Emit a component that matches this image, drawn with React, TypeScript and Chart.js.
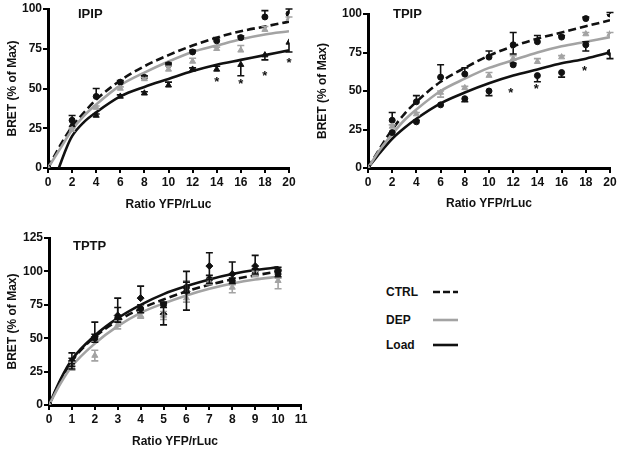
import React, { useEffect, useRef } from "react";
import { Chart, registerables } from "chart.js";

Chart.register(...registerables);

const FONT = "'Liberation Sans', Arial, sans-serif";
const BLACK = "#111111";
const GRAY = "#a3a3a3";

// ---------- IPIP ----------
const ipipX = [0, 2, 4, 6, 8, 10, 12, 14, 16, 18, 20];
const ipipCtrl = [0, 30, 45, 54, 57, 65, 73, 80, 82, 95, 97];
const ipipCtrlUp = [0, 3, 5, 1, 1, 1, 1, 2, 1, 4, 3];
const ipipCtrlDn = [0, 0, 0, 0, 0, 0, 0, 0, 0, 0, 0];
const ipipDep = [0, 24, 38, 50, 56, 62, 67, 75, 74, 87, 94];
const ipipDepUp = [0, 1, 1, 1, 1, 2, 2, 1, 3, 2, 1];
const ipipDepDn = [0, 0, 0, 0, 0, 0, 0, 0, 0, 0, 0];
const ipipLoad = [0, 27, 33, 45, 47, 52, 62, 62, 65, 71, 79];
const ipipLoadUp = [0, 0, 1, 1, 1, 2, 1, 2, 0, 0, 0];
const ipipLoadDn = [0, 0, 0, 0, 0, 0, 0, 0, 7, 3, 6];
const ipipStarX = [14, 16, 18, 20];
const ipipStarY = [55, 54, 59, 67];
const ipipFitX = [0, 1, 2, 3, 4, 6, 8, 10, 12, 14, 16, 18, 20];
const ipipCtrlFit = [0, 14, 26, 35, 43, 55, 64, 71, 77, 82, 86, 89, 92];
const ipipDepFit = [0, 12, 24, 33, 40, 52, 60, 67, 73, 77, 81, 84, 86];
const ipipLoadFitX = [0.9, 1.5, 2, 3, 4, 6, 8, 10, 12, 14, 16, 18, 20];
const ipipLoadFit = [0, 12, 20, 29, 35, 45, 51, 56, 61, 65, 68, 71, 74];

// ---------- TPIP ----------
const tpipX = [0, 2, 4, 6, 8, 10, 12, 14, 16, 18, 20];
const tpipCtrl = [0, 31, 43, 59, 61, 72, 80, 82, 85, 97, 100];
const tpipCtrlUp = [0, 5, 4, 8, 4, 4, 8, 4, 1, 1, 1];
const tpipCtrlDn = [0, 0, 0, 0, 0, 0, 6, 0, 0, 0, 0];
const tpipDep = [0, 27, 35, 49, 52, 60, 71, 69, 72, 87, 87];
const tpipDepUp = [0, 1, 1, 1, 1, 2, 2, 2, 1, 1, 1];
const tpipDepDn = [0, 0, 0, 3, 0, 0, 0, 0, 0, 0, 0];
const tpipLoad = [0, 23, 30, 41, 45, 50, 67, 60, 62, 80, 75];
const tpipLoadUp = [0, 0, 1, 0, 0, 0, 1, 0, 0, 2, 0];
const tpipLoadDn = [0, 0, 0, 0, 2, 3, 0, 4, 3, 4, 4];
const tpipStarX = [11.8, 13.9, 17.9];
const tpipStarY = [50, 52, 64];
const tpipFitX = [0, 1, 2, 3, 4, 6, 8, 10, 12, 14, 16, 18, 20];
const tpipCtrlFit = [0, 13, 25, 35, 43, 56, 65, 73, 79, 84, 88, 92, 96];
const tpipDepFit = [0, 12, 22, 31, 38, 50, 58, 65, 70, 75, 79, 82, 85];
const tpipLoadFit = [0, 10, 19, 26, 32, 42, 49, 55, 60, 64, 68, 71, 75];

// ---------- TPTP ----------
const tptpX = [0, 1, 2, 3, 4, 5, 6, 7, 8, 9, 10];
const tptpCtrl = [0, 32, 50, 65, 72, 75, 88, 94, 93, 100, 98];
const tptpCtrlUp = [0, 3, 3, 8, 3, 2, 4, 3, 2, 2, 2];
const tptpCtrlDn = [0, 3, 3, 3, 3, 2, 4, 3, 2, 2, 2];
const tptpDep = [0, 29, 37, 60, 67, 67, 80, 92, 88, 98, 93];
const tptpDepUp = [0, 3, 4, 3, 2, 3, 13, 2, 2, 2, 2];
const tptpDepDn = [0, 3, 4, 3, 2, 3, 3, 2, 4, 2, 6];
const tptpLoad = [0, 33, 51, 67, 80, 68, 85, 104, 98, 104, 101];
const tptpLoadUp = [0, 6, 11, 13, 9, 8, 15, 10, 9, 8, 2];
const tptpLoadDn = [0, 6, 0, 0, 0, 8, 14, 10, 0, 0, 0];
const tptpFitX = [0, 0.5, 1, 2, 3, 4, 5, 6, 7, 8, 9, 10];
const tptpLoadFit = [0, 19, 34, 52, 65, 75, 83, 89, 94, 98, 101, 103];
const tptpCtrlFit = [0, 18, 33, 51, 63, 72, 79, 85, 90, 94, 97, 100];
const tptpDepFit = [0, 16, 29, 46, 59, 69, 76, 82, 87, 91, 94, 96];

const pts = (xs: number[], ys: number[]) => xs.map((x, i) => ({ x, y: ys[i] }));

const errorBarPlugin = {
  id: "errorBars",
  afterDatasetsDraw(chart: any) {
    const { ctx } = chart;
    const xs = chart.scales.x;
    const ys = chart.scales.y;
    chart.data.datasets.forEach((ds: any) => {
      if (!ds.errUp) return;
      ctx.save();
      ctx.strokeStyle = ds.errColor;
      ctx.lineWidth = 1.6;
      ds.data.forEach((p: any, i: number) => {
        const px = xs.getPixelForValue(p.x);
        const py = ys.getPixelForValue(p.y);
        const ends: number[] = [];
        if (ds.errUp[i] > 0) ends.push(p.y + ds.errUp[i]);
        if (ds.errDown[i] > 0) ends.push(p.y - ds.errDown[i]);
        ends.forEach((v) => {
          const ey = ys.getPixelForValue(v);
          ctx.beginPath();
          ctx.moveTo(px, py);
          ctx.lineTo(px, ey);
          ctx.moveTo(px - 3.5, ey);
          ctx.lineTo(px + 3.5, ey);
          ctx.stroke();
        });
      });
      ctx.restore();
    });
  },
};

const starPlugin = {
  id: "stars",
  afterDatasetsDraw(chart: any, _args: any, opts: any) {
    if (!opts || !opts.x) return;
    const { ctx } = chart;
    ctx.save();
    ctx.fillStyle = BLACK;
    ctx.font = `bold 13px ${FONT}`;
    ctx.textAlign = "center";
    ctx.textBaseline = "middle";
    opts.x.forEach((x: number, i: number) => {
      ctx.fillText("*", chart.scales.x.getPixelForValue(x), chart.scales.y.getPixelForValue(opts.y[i]) + 2);
    });
    ctx.restore();
  },
};

type Spec = {
  series: { x: number[]; y: number[]; up: number[]; dn: number[]; color: string; style: string; radius: number }[];
  fits: { x: number[]; y: number[]; color: string; dash: number[] }[];
  stars?: { x: number[]; y: number[] };
  xMax: number;
  xStep: number;
  yMax: number;
  yW: number;
  xH: number;
  pad: { right: number; top: number };
  xTitlePad: number;
};

function buildConfig(s: Spec): any {
  const font = { family: FONT, size: 12, weight: "bold" as const };
  const pointSets = s.series.map((se) => ({
    data: pts(se.x, se.y),
    showLine: false,
    pointStyle: se.style,
    pointRadius: se.radius,
    backgroundColor: se.color,
    borderColor: se.color,
    borderWidth: 1,
    errUp: se.up,
    errDown: se.dn,
    errColor: se.color,
  }));
  const fitSets = s.fits.map((f) => ({
    data: pts(f.x, f.y),
    showLine: true,
    pointRadius: 0,
    borderColor: f.color,
    borderWidth: 2.6,
    borderDash: f.dash,
    cubicInterpolationMode: "monotone",
    fill: false,
  }));
  return {
    type: "scatter",
    data: { datasets: [...pointSets, ...fitSets] },
    options: {
      animation: false,
      responsive: false,
      devicePixelRatio: 1,
      layout: { padding: { left: 0, right: s.pad.right, top: s.pad.top, bottom: 0 } },
      plugins: {
        legend: { display: false },
        tooltip: { enabled: false },
        stars: s.stars || {},
      },
      scales: {
        x: {
          type: "linear",
          min: 0,
          max: s.xMax,
          afterFit: (sc: any) => {
            sc.height = s.xH;
          },
          ticks: { stepSize: s.xStep, color: BLACK, font, padding: 2, maxRotation: 0, autoSkip: false },
          grid: { drawOnChartArea: false, drawTicks: true, tickLength: 5, color: "#000", lineWidth: 2 },
          border: { color: "#000", width: 3 },
          title: { display: true, text: "Ratio YFP/rLuc", color: BLACK, font, padding: { top: 0, bottom: s.xTitlePad } },
        },
        y: {
          type: "linear",
          min: 0,
          max: s.yMax,
          afterFit: (sc: any) => {
            sc.width = s.yW;
          },
          ticks: { stepSize: 25, color: BLACK, font, padding: 1 },
          grid: { drawOnChartArea: false, drawTicks: true, tickLength: 5, color: "#000", lineWidth: 2 },
          border: { color: "#000", width: 3 },
          title: { display: true, text: "BRET (% of Max)", color: BLACK, font, padding: { top: 5, bottom: 0 } },
        },
      },
    },
    plugins: [errorBarPlugin, starPlugin],
  };
}

const ipipSpec: Spec = {
  series: [
    { x: ipipX, y: ipipDep, up: ipipDepUp, dn: ipipDepDn, color: GRAY, style: "triangle", radius: 3.5 },
    { x: ipipX, y: ipipCtrl, up: ipipCtrlUp, dn: ipipCtrlDn, color: BLACK, style: "circle", radius: 3 },
    { x: ipipX, y: ipipLoad, up: ipipLoadUp, dn: ipipLoadDn, color: BLACK, style: "triangle", radius: 3.5 },
  ],
  fits: [
    { x: ipipFitX, y: ipipDepFit, color: GRAY, dash: [] },
    { x: ipipFitX, y: ipipCtrlFit, color: BLACK, dash: [8, 4] },
    { x: ipipLoadFitX, y: ipipLoadFit, color: BLACK, dash: [] },
  ],
  stars: { x: ipipStarX, y: ipipStarY },
  xMax: 20,
  xStep: 2,
  yMax: 100,
  yW: 48,
  xH: 52,
  pad: { right: 21, top: 9 },
  xTitlePad: 8,
};

const tpipSpec: Spec = {
  series: [
    { x: tpipX, y: tpipDep, up: tpipDepUp, dn: tpipDepDn, color: GRAY, style: "triangle", radius: 3.5 },
    { x: tpipX, y: tpipCtrl, up: tpipCtrlUp, dn: tpipCtrlDn, color: BLACK, style: "circle", radius: 3 },
    { x: tpipX, y: tpipLoad, up: tpipLoadUp, dn: tpipLoadDn, color: BLACK, style: "circle", radius: 3 },
  ],
  fits: [
    { x: tpipFitX, y: tpipDepFit, color: GRAY, dash: [] },
    { x: tpipFitX, y: tpipCtrlFit, color: BLACK, dash: [8, 4] },
    { x: tpipFitX, y: tpipLoadFit, color: BLACK, dash: [] },
  ],
  stars: { x: tpipStarX, y: tpipStarY },
  xMax: 20,
  xStep: 2,
  yMax: 100,
  yW: 58,
  xH: 52,
  pad: { right: 14, top: 14 },
  xTitlePad: 9,
};

const tptpSpec: Spec = {
  series: [
    { x: tptpX, y: tptpDep, up: tptpDepUp, dn: tptpDepDn, color: GRAY, style: "triangle", radius: 3.5 },
    { x: tptpX, y: tptpCtrl, up: tptpCtrlUp, dn: tptpCtrlDn, color: BLACK, style: "circle", radius: 3 },
    { x: tptpX, y: tptpLoad, up: tptpLoadUp, dn: tptpLoadDn, color: BLACK, style: "rectRot", radius: 3.5 },
  ],
  fits: [
    { x: tptpFitX, y: tptpDepFit, color: GRAY, dash: [] },
    { x: tptpFitX, y: tptpCtrlFit, color: BLACK, dash: [8, 4] },
    { x: tptpFitX, y: tptpLoadFit, color: BLACK, dash: [] },
  ],
  xMax: 11,
  xStep: 1,
  yMax: 125,
  yW: 49,
  xH: 44,
  pad: { right: 9, top: 18 },
  xTitlePad: 0,
};

function Panel({ spec, left, top, width, height }: { spec: Spec; left: number; top: number; width: number; height: number }) {
  const ref = useRef<HTMLCanvasElement>(null);
  useEffect(() => {
    const chart = new Chart(ref.current as HTMLCanvasElement, buildConfig(spec));
    return () => chart.destroy();
  }, [spec]);
  return (
    <canvas
      ref={ref}
      width={width}
      height={height}
      style={{ position: "absolute", left, top, width, height, display: "block" }}
    />
  );
}

const labelStyle = (left: number, top: number): React.CSSProperties => ({
  position: "absolute",
  left,
  top,
  font: `bold 13px ${FONT}`,
  lineHeight: "16px",
  color: BLACK,
  whiteSpace: "nowrap",
});

const legendNames = ["CTRL", "DEP", "Load"];
const legendY = [292, 320, 345];

export default function App() {
  return (
    <div style={{ position: "absolute", left: 0, top: 0, width: 624, height: 449, background: "#fff", overflow: "hidden" }}>
      <Panel spec={ipipSpec} left={0} top={0} width={310} height={220} />
      <Panel spec={tpipSpec} left={310} top={0} width={314} height={220} />
      <Panel spec={tptpSpec} left={0} top={220} width={310} height={229} />
      <div style={labelStyle(78, 6)}>IPIP</div>
      <div style={labelStyle(393, 6)}>TPIP</div>
      <div style={labelStyle(73, 238)}>TPTP</div>
      {legendNames.map((n, i) => (
        <div key={n} style={{ ...labelStyle(386, legendY[i] - 8), font: `bold 12px ${FONT}` }}>
          {n}
        </div>
      ))}
      <svg style={{ position: "absolute", left: 430, top: 280 }} width={40} height={80}>
        <line x1={3} x2={28} y1={legendY[0] - 280} y2={legendY[0] - 280} stroke={BLACK} strokeWidth={2.6} strokeDasharray="7 3" />
        <line x1={3} x2={28} y1={legendY[1] - 280} y2={legendY[1] - 280} stroke={GRAY} strokeWidth={2.6} />
        <line x1={3} x2={28} y1={legendY[2] - 280} y2={legendY[2] - 280} stroke={BLACK} strokeWidth={2.6} />
      </svg>
    </div>
  );
}
